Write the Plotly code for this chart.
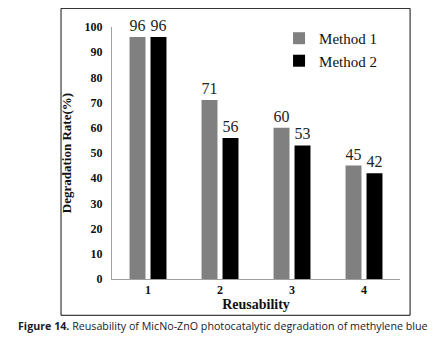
import plotly.graph_objects as go

categories = ["1", "2", "3", "4"]
method1 = [96, 71, 60, 45]
method2 = [96, 56, 53, 42]
series_names = ["Method 1", "Method 2"]
y_ticks = [0, 10, 20, 30, 40, 50, 60, 70, 80, 90, 100]

serif = "Liberation Serif, Times New Roman, serif"

fig = go.Figure()
fig.add_trace(go.Bar(x=categories, y=method1, name=series_names[0],
                     marker=dict(color="#808080", line=dict(width=0)),
                     text=[str(v) for v in method1], textposition="outside",
                     textfont=dict(family=serif, size=16, color="#222"),
                     cliponaxis=False))
fig.add_trace(go.Bar(x=categories, y=method2, name=series_names[1],
                     marker=dict(color="#000000", line=dict(width=0)),
                     text=[str(v) for v in method2], textposition="outside",
                     textfont=dict(family=serif, size=16, color="#222"),
                     cliponaxis=False))

fig.update_layout(
    width=444, height=338,
    margin=dict(l=104, r=52, t=14, b=67),
    paper_bgcolor="white", plot_bgcolor="white",
    barmode="group", bargap=0.417, bargroupgap=0.24,
    showlegend=True,
    legend=dict(x=0.58, y=1.02, xanchor="left", yanchor="top",
                font=dict(family=serif, size=15, color="#111"),
                bgcolor="rgba(0,0,0,0)", tracegroupgap=0, itemwidth=30),
    xaxis=dict(showline=True, linecolor="#a0a0a0", linewidth=1,
               ticks="", showgrid=False,
               tickfont=dict(family=serif, size=12, color="#111", weight="bold"),
               title=dict(text="<b>Reusability</b>", standoff=2,
                          font=dict(family=serif, size=14, color="#111"))),
    yaxis=dict(range=[0, 100], tickvals=y_ticks, showline=True,
               linecolor="#a0a0a0", linewidth=1, ticks="", showgrid=False,
               zeroline=False,
               tickfont=dict(family=serif, size=12, color="#111", weight="bold"),
               ticklabelstandoff=6,
               title=dict(text="<b>Degradation Rate(%)</b>", standoff=10,
                          font=dict(family=serif, size=13, color="#111"))),
    shapes=[dict(type="rect", xref="paper", yref="paper",
                 x0=-0.177, x1=1.035, y0=-0.144, y1=1.074,
                 line=dict(color="#111", width=1), fillcolor="rgba(0,0,0,0)")],
    annotations=[dict(xref="paper", yref="paper", x=0.385, y=-0.187,
                      xanchor="center", yanchor="middle", showarrow=False,
                      text="<b>Figure 14.</b> Reusability of MicNo-ZnO photocatalytic degradation of methylene blue",
                      font=dict(family="Open Sans, sans-serif", size=10.7, color="#1a1a2a"))],
)

fig.write_html("out.html")
